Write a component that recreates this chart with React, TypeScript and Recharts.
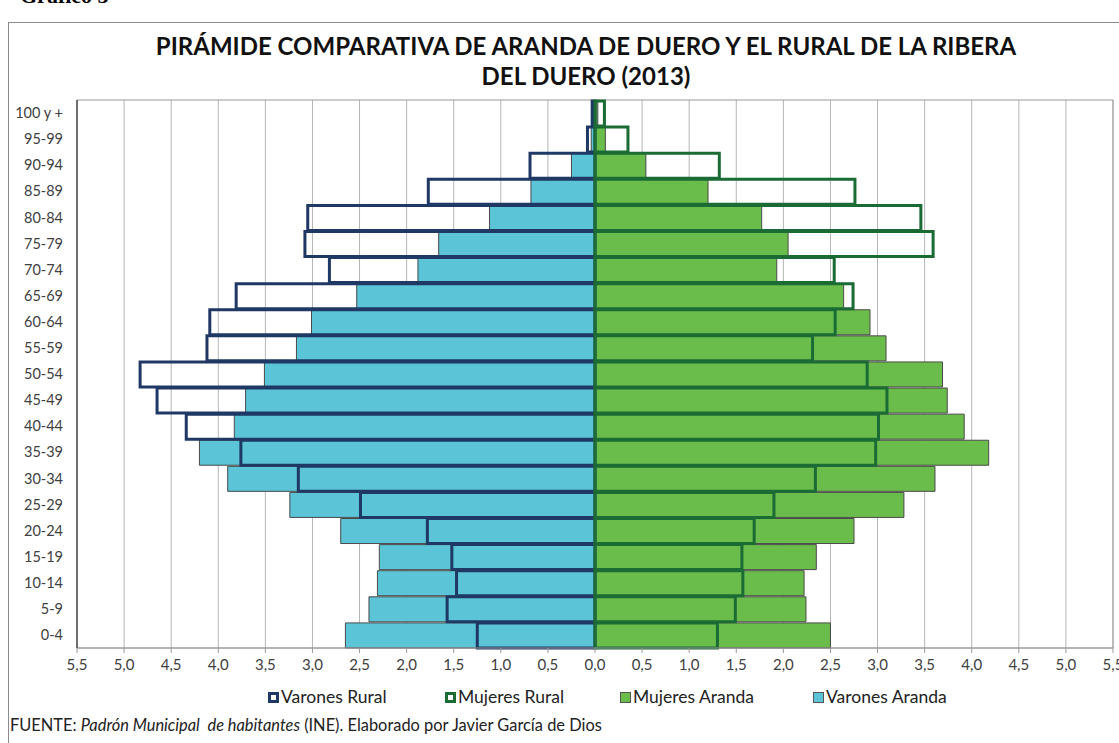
import { BarChart, Bar, XAxis, YAxis, CartesianGrid, ReferenceArea } from "recharts";

// grupos de edad, de abajo (0-4) a arriba (100 y +)
const ageGroups = [
  "0-4", "5-9", "10-14", "15-19", "20-24", "25-29", "30-34", "35-39", "40-44", "45-49",
  "50-54", "55-59", "60-64", "65-69", "70-74", "75-79", "80-84", "85-89", "90-94", "95-99", "100 y +",
];

// % de población
const varonesAranda = [2.65, 2.4, 2.31, 2.29, 2.7, 3.24, 3.9, 4.2, 3.83, 3.71, 3.51, 3.17, 3.01, 2.53, 1.88, 1.66, 1.12, 0.68, 0.25, 0.04, 0.01];
const mujeresAranda = [2.5, 2.24, 2.22, 2.35, 2.75, 3.28, 3.61, 4.18, 3.92, 3.74, 3.69, 3.09, 2.92, 2.64, 1.93, 2.05, 1.77, 1.2, 0.54, 0.11, 0.03];
const varonesRural = [1.25, 1.57, 1.47, 1.52, 1.78, 2.49, 3.15, 3.76, 4.34, 4.65, 4.83, 4.12, 4.09, 3.81, 2.82, 3.08, 3.05, 1.77, 0.69, 0.08, 0.03];
const mujeresRural = [1.3, 1.49, 1.57, 1.56, 1.69, 1.9, 2.34, 2.98, 3.01, 3.1, 2.89, 2.31, 2.55, 2.74, 2.54, 3.59, 3.46, 2.76, 1.32, 0.35, 0.1];

const xTicks = [-5.5, -5, -4.5, -4, -3.5, -3, -2.5, -2, -1.5, -1, -0.5, 0, 0.5, 1, 1.5, 2, 2.5, 3, 3.5, 4, 4.5, 5, 5.5];

const CYAN = "#5bc4d6";
const GREEN = "#6bbd4b";
const NAVY = "#1f3864";
const DARK_GREEN = "#1b6b35";
const FONT = "Lato, 'Open Sans', sans-serif";

const chartData = ageGroups.map((age, i) => ({
  age,
  varonesAranda: -varonesAranda[i],
  mujeresAranda: mujeresAranda[i],
  varonesRural: -varonesRural[i],
  mujeresRural: mujeresRural[i],
}));

const fmt = (v: number) => Math.abs(v).toFixed(1).replace(".", ",");

const legendItems = [
  { label: "Varones Rural", fill: "#fff", border: NAVY, thick: true, left: 268 },
  { label: "Mujeres Rural", fill: "#fff", border: DARK_GREEN, thick: true, left: 445 },
  { label: "Mujeres Aranda", fill: GREEN, border: "#555", thick: false, left: 620 },
  { label: "Varones Aranda", fill: CYAN, border: "#555", thick: false, left: 813 },
];

function LegendRow() {
  return (
    <>
      {legendItems.map((it) => (
        <div
          key={it.label}
          style={{
            position: "absolute",
            left: it.left,
            top: 686,
            display: "flex",
            alignItems: "center",
            fontFamily: FONT,
            fontSize: 17.5,
            lineHeight: "22px",
            color: "#222",
          }}
        >
          <span
            style={{
              display: "inline-block",
              boxSizing: "border-box",
              width: 11,
              height: 11,
              background: it.fill,
              border: `${it.thick ? 3 : 1}px solid ${it.border}`,
              marginRight: 2,
            }}
          />
          {it.label}
        </div>
      ))}
    </>
  );
}

export default function App() {
  return (
    <div style={{ position: "absolute", left: 0, top: 0, width: 1119, height: 743, overflow: "hidden", background: "#fff" }}>
      <div
        style={{
          position: "absolute",
          left: 20,
          top: -17,
          fontFamily: "'Liberation Serif', serif",
          fontWeight: "bold",
          fontSize: 22,
        }}
      >
        Gráfico 5
      </div>
      <div style={{ position: "absolute", left: 8, top: 22, width: 1130, height: 740, border: "1px solid #8c8c8c" }} />
      <div
        style={{
          position: "absolute",
          left: 86,
          top: 31,
          width: 1000,
          textAlign: "center",
          fontFamily: FONT,
          fontWeight: "bold",
          fontSize: 24,
          lineHeight: "30px",
          color: "#111",
        }}
      >
        PIRÁMIDE COMPARATIVA DE ARANDA DE DUERO Y EL RURAL DE LA RIBERA
        <br />
        DEL DUERO (2013)
      </div>
      <div style={{ position: "absolute", left: 0, top: 0 }}>
        <BarChart
          width={1119}
          height={743}
          data={chartData}
          layout="vertical"
          margin={{ top: 100, right: 6, bottom: 65, left: 17 }}
          barSize={25}
          barGap={-25}
          style={{ fontFamily: FONT }}
        >
          <CartesianGrid horizontal={false} stroke="#b5b5b5" />
          <ReferenceArea x1={-5.5} x2={5.5} fill="none" stroke="#9a9a9a" />
          <XAxis
            type="number"
            domain={[-5.5, 5.5]}
            ticks={xTicks}
            interval={0}
            tickFormatter={fmt}
            axisLine={{ stroke: "#9a9a9a" }}
            tickLine={{ stroke: "#9a9a9a" }}
            tickSize={5}
            tickMargin={6}
            tick={{ fontSize: 15, fill: "#404040" }}
            height={30}
          />
          <YAxis
            type="category"
            dataKey="age"
            reversed
            interval={0}
            width={60}
            axisLine={{ stroke: "#222" }}
            tickLine={false}
            tickMargin={8}
            tick={{ fontSize: 14.5, fill: "#404040" }}
          />
          <Bar dataKey="varonesAranda" fill={CYAN} stroke="#4a4a4a" strokeWidth={1} isAnimationActive={false} />
          <Bar dataKey="mujeresAranda" fill={GREEN} stroke="#4a4a4a" strokeWidth={1} isAnimationActive={false} />
          <Bar dataKey="varonesRural" fill="none" stroke={NAVY} strokeWidth={3} isAnimationActive={false} />
          <Bar dataKey="mujeresRural" fill="none" stroke={DARK_GREEN} strokeWidth={3} isAnimationActive={false} />
        </BarChart>
      </div>
      <LegendRow />
      <div style={{ position: "absolute", left: 10, top: 715, fontFamily: FONT, fontSize: 16.4, lineHeight: "20px", color: "#222" }}>
        FUENTE: <i>Padrón Municipal&nbsp; de habitantes</i> (INE). Elaborado por Javier García de Dios
      </div>
    </div>
  );
}
